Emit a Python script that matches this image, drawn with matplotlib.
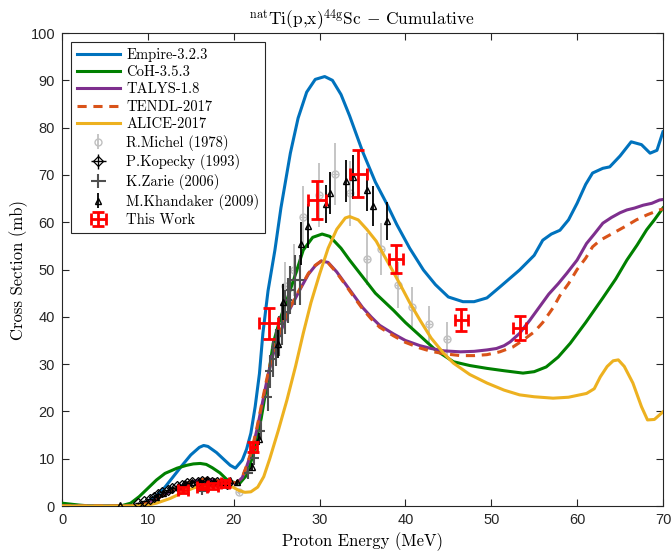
import numpy as np
from matplotlib import pyplot as plt

plt.rcParams['mathtext.fontset'] = 'cm'
cm_font = ['cmr10', 'DejaVu Serif']

# model curves (energy in MeV, cross section in mb)
empire_x = [0, 4, 8, 9, 10, 11, 12, 13, 14, 15, 16, 16.5, 17, 18, 19, 19.6, 20.2, 21, 21.5, 22, 22.5,
            23, 23.4, 24, 24.8, 25.5, 26.6, 27.5, 28.5, 29.5, 30.6, 31.5, 32.5, 33.5, 35, 36.5,
            37.8, 39, 40.5, 42.1, 43.5, 45, 46.7, 48, 49.5, 51, 53.3, 55, 56, 57, 58, 59, 60,
            61, 61.8, 63, 63.8, 65, 66.3, 67.5, 68.5, 69.3, 70]
empire_y = [0, 0, 0.1, 0.3, 1.0, 2.2, 4.0, 6.3, 8.6, 10.8, 12.4, 12.8, 12.6, 11.3, 9.6, 8.6, 8.0, 9.7,
            12.0, 15.4, 21.0, 28.0, 36.5, 45.5, 54.1, 63.0, 74.6, 82.0, 87.5, 90.2, 90.8, 90.0,
            87.0, 82.5, 75.0, 68.5, 64.0, 59.5, 54.5, 49.9, 46.8, 44.2, 43.2, 43.2, 44.0, 46.3,
            49.9, 53.0, 56.2, 57.5, 58.3, 60.5, 64.0, 68.0, 70.4, 71.4, 71.7, 74.0, 77.0, 76.4,
            74.6, 75.2, 79.1]

coh_x = [0, 1, 2, 3, 5, 7, 8, 9, 10.2, 11, 12, 13.4, 14.5, 15.3, 16.1, 16.8, 17.5, 18.4, 19.2, 20,
         20.7, 21.5, 22.3, 23.2, 24.0, 24.6, 25.4, 26.2, 27.2, 28.1, 29.2, 30.3, 31.2, 32.5, 33.5,
         34.7, 36.5, 38.6, 40, 41.7, 43.5, 45.6, 47.5, 49.5, 51.5, 53.7, 55, 56.4, 57.8, 59.2,
         61, 63, 64.5, 65.8, 67, 68.1, 69, 70]
coh_y = [0.6, 0.4, 0.2, 0.05, 0, 0.1, 0.6, 2.0, 4.1, 5.5, 6.9, 8.0, 8.6, 8.9, 9.0, 8.8, 8.1, 7.0,
         5.6, 5.0, 4.8, 6.5, 11.0, 18.5, 27.0, 34.4, 39.5, 43.6, 49.0, 54.1, 56.8, 57.5, 57.0,
         54.5, 52.0, 49.2, 45.0, 41.4, 38.8, 36.0, 33.0, 30.5, 29.7, 29.1, 28.6, 28.1, 28.4,
         29.4, 31.5, 34.4, 38.8, 44.0, 48.0, 52.0, 55.2, 58.4, 60.5, 63.0]

talys_x = [0, 4, 8, 9, 10, 11, 12, 13, 14, 15, 16, 16.8, 17.5, 18.5, 19.5, 20.3, 21, 21.5, 22.1, 22.7,
           23.2, 23.8, 24.5, 25.4, 26.5, 27.7, 28.7, 29.5, 30.2, 31, 32, 33, 34, 35, 36, 37, 38.6,
           40, 41.7, 43, 44.5, 46.4, 48, 49.5, 50.6, 51.5, 52.2, 53.3, 54.5, 55.5, 56.7, 57.8,
           58.8, 60, 61.1, 62, 63, 64, 65, 65.8, 66.7, 67.7, 68.7, 69.6, 70]
talys_y = [0, 0, 0, 0.2, 0.7, 1.5, 2.5, 3.4, 4.3, 5.0, 5.5, 5.6, 5.5, 5.2, 4.9, 4.8, 6.0, 8.3, 11.5,
           16.1, 20.5, 25.9, 31.5, 36.6, 41.5, 45.7, 49.0, 50.8, 51.8, 51.5, 49.5, 47.0, 44.5,
           42.0, 40.0, 38.2, 36.4, 35.0, 33.9, 33.3, 32.8, 32.6, 32.7, 33.0, 33.3, 33.9, 34.7,
           36.5, 39.3, 41.8, 44.8, 47.0, 49.2, 52.0, 55.5, 57.5, 59.8, 61.0, 62.0, 62.6, 63.0,
           63.6, 64.0, 64.7, 64.8]

tendl_x = [0, 4, 8, 9, 10, 11, 12, 13, 14, 15, 16, 16.8, 17.5, 18.5, 19.5, 20.3, 21, 21.5, 22.1, 22.7,
           23.2, 23.8, 24.5, 25.4, 26.5, 27.7, 28.7, 29.5, 30.2, 31, 32, 33, 34, 35, 36, 37, 38.6,
           40, 41.7, 43, 44.5, 46.4, 48, 49.5, 51, 52.5, 53.5, 55, 56, 57.2, 58, 59, 60, 61,
           61.8, 62.7, 64.2, 65.5, 66.9, 68.2, 69.6, 70]
tendl_y = [0, 0, 0, 0.2, 0.7, 1.5, 2.5, 3.5, 4.4, 5.1, 5.6, 5.7, 5.6, 5.3, 5.0, 4.9, 6.1, 8.5, 11.8,
           16.5, 21.0, 26.4, 32.0, 37.0, 41.8, 45.9, 49.2, 50.9, 51.8, 51.4, 49.3, 46.8, 44.2,
           41.7, 39.6, 37.8, 36.0, 34.6, 33.4, 32.7, 32.2, 31.8, 31.8, 32.0, 32.6, 33.6, 34.8,
           36.8, 38.8, 41.9, 44.5, 47.0, 50.0, 52.4, 54.8, 56.2, 57.7, 59.0, 60.5, 61.6, 62.6,
           62.8]

alice_x = [0, 5, 8, 10, 11, 12.6, 14, 15.3, 16.5, 18, 19, 19.9, 20.6, 21.3, 22, 22.8, 23.5, 24.2, 25.2,
           26.2, 27.2, 28.1, 29, 30, 31, 32, 33, 33.5, 34.5, 35.5, 36.6, 37.5, 38.5, 39.4,
           40.5, 41.7, 43, 44.5, 45.6, 47.5, 49.5, 51.5, 53.3, 55, 57.2, 59, 61.1, 62, 62.7,
           63.5, 64.2, 64.8, 65.5, 66.5, 67.5, 68.2, 69, 70]
alice_y = [0, 0, 0, 0.2, 0.6, 1.6, 2.8, 3.8, 4.3, 4.6, 4.5, 4.0, 3.3, 2.9, 3.0, 4.0, 6.2, 10.0, 16.0,
           22.4, 29.5, 36.5, 43.0, 49.0, 54.5, 58.5, 60.9, 61.2, 60.5, 58.5, 56.0, 53.0, 49.8,
           46.8, 43.0, 39.3, 35.5, 32.2, 30.2, 27.8, 26.0, 24.5, 23.5, 23.1, 22.8, 23.0, 23.8,
           24.8, 27.3, 29.5, 30.7, 30.9, 29.5, 26.0, 21.0, 18.2, 18.3, 19.9]

# experimental data: energy, cross section and uncertainties
michel_x = [20.6, 26.0, 27.0, 28.1, 29.9, 31.8, 33.6, 35.5, 37.2, 39.1, 40.8, 42.7, 44.9]
michel_y = [3.0, 46.5, 50.0, 61.2, 65.8, 70.2, 66.1, 52.2, 54.3, 46.7, 42.1, 38.4, 35.4]
michel_dy = [0.4, 5.0, 5.5, 6.5, 6.8, 6.5, 6.8, 5.5, 5.5, 4.8, 4.2, 3.9, 3.6]

kopecky_x = [8.9, 9.6, 10.2, 10.7, 11.2, 11.7, 12.3, 12.8, 13.4, 14.0, 14.6, 15.2, 15.8, 16.3, 16.9,
             17.5, 18.0, 18.6, 19.2]
kopecky_y = [0.6, 1.1, 1.5, 2.0, 2.5, 3.0, 3.4, 3.8, 4.2, 4.5, 4.9, 5.0, 5.1, 5.2, 5.2, 5.1, 5.0,
             4.8, 4.7]
kopecky_dx = [0.4, 0.4, 0.4, 0.4, 0.4, 0.4, 0.4, 0.4, 0.4, 0.4, 0.4, 0.4, 0.4, 0.4, 0.4, 0.4, 0.4,
              0.4, 0.4]
kopecky_dy = [0.2, 0.2, 0.2, 0.3, 0.3, 0.3, 0.3, 0.4, 0.4, 0.4, 0.4, 0.4, 0.4, 0.4, 0.4, 0.4, 0.4,
              0.4, 0.4]

zarie_x = [16.3, 21.7, 22.4, 23.2, 24.0, 24.2, 24.6, 24.9, 25.3, 25.6, 26.0, 26.3, 26.6, 27.1, 27.7]
zarie_y = [3.1, 7.0, 10.1, 15.9, 23.0, 28.5, 31.0, 33.5, 36.0, 38.5, 41.0, 43.5, 45.7, 47.8, 47.8]
zarie_dx = [0.6, 0.5, 0.5, 0.5, 0.5, 0.5, 0.5, 0.5, 0.5, 0.5, 0.5, 0.5, 0.5, 0.5, 0.5]
zarie_dy = [0.8, 1.2, 1.5, 2.0, 3.0, 3.5, 3.8, 4.0, 4.2, 4.4, 4.6, 4.8, 5.0, 5.2, 5.2]

khand_x = [6.8, 11.0, 11.8, 12.6, 13.5, 14.3, 15.2, 16.0, 16.9, 17.7, 18.6, 19.6, 20.4, 22.1, 23.0,
           25.2, 25.8, 27.8, 28.7, 30.7, 31.2, 33.1, 33.9, 35.5, 36.2, 37.9]
khand_y = [0.3, 2.0, 2.8, 3.5, 4.2, 4.8, 5.1, 5.3, 5.4, 5.2, 5.0, 5.5, 5.0, 8.3, 14.2, 34.2, 43.2,
           55.5, 59.2, 63.8, 66.2, 68.7, 69.6, 66.8, 63.4, 60.2]
khand_dy = [0.1, 0.3, 0.3, 0.4, 0.4, 0.5, 0.5, 0.5, 0.5, 0.5, 0.5, 0.5, 0.5, 0.8, 1.2, 3.0, 3.8,
            4.5, 4.7, 4.0, 4.5, 4.5, 4.6, 4.4, 4.2, 4.0]

work_x = [14.1, 16.3, 17.6, 19.0, 22.3, 24.1, 29.7, 34.5, 38.9, 46.5, 53.3]
work_y = [3.4, 4.1, 4.2, 4.8, 12.5, 38.6, 64.7, 70.3, 52.2, 39.3, 37.6]
work_dx = [0.6, 0.6, 0.6, 0.5, 0.4, 1.1, 1.0, 1.0, 0.85, 0.78, 0.72]
work_dy = [0.6, 0.6, 0.6, 0.7, 1.0, 3.2, 4.1, 4.9, 3.0, 2.3, 2.5]

fig = plt.figure(figsize=(6.71, 5.56), dpi=100)
ax = fig.add_axes([0.0924, 0.0899, 0.8956, 0.8507])

lw = 2.2
ax.plot(empire_x, empire_y, color='#0072BD', lw=lw, label='Empire-3.2.3', zorder=3)
ax.plot(coh_x, coh_y, color='#008000', lw=lw, label='CoH-3.5.3', zorder=3)
ax.plot(talys_x, talys_y, color='#7E2F8E', lw=lw, label='TALYS-1.8', zorder=3)
ax.plot(tendl_x, tendl_y, color='#D95319', lw=lw, ls=(0, (3, 2.2)), label='TENDL-2017', zorder=3)
ax.plot(alice_x, alice_y, color='#EDB120', lw=lw, label='ALICE-2017', zorder=3)

ax.errorbar(michel_x, michel_y, yerr=michel_dy, fmt='o', color='#c0c0c0', ms=5, mfc='none',
            mew=1, elinewidth=1.3, capsize=0, label='R.Michel (1978)', zorder=2)
ax.plot(michel_x, michel_y, '+', color='#c0c0c0', ms=5, zorder=2)
ax.errorbar(kopecky_x, kopecky_y, xerr=kopecky_dx, yerr=kopecky_dy, fmt='D', color='k', ms=5,
            mfc='none', mew=0.9, elinewidth=1, capsize=0, label='P.Kopecky (1993)', zorder=4)
ax.errorbar(zarie_x, zarie_y, xerr=zarie_dx, yerr=zarie_dy, fmt='none', ecolor='#505050',
            elinewidth=1.5, capsize=0, label='K.Zarie (2006)', zorder=4)
ax.errorbar(khand_x, khand_y, yerr=khand_dy, fmt='^', color='k', ms=4.5, mfc='none', mew=1,
            elinewidth=1.3, capsize=0, label='M.Khandaker (2009)', zorder=4)
ax.errorbar(work_x, work_y, xerr=work_dx, yerr=work_dy, fmt='none', ecolor='#ff0000',
            elinewidth=2, capsize=4, capthick=2, label='This Work', zorder=5)

ax.set_xlim(0, 70)
ax.set_ylim(0, 100)
ax.set_xticks(np.arange(0, 71, 10))
ax.set_yticks(np.arange(0, 101, 10))
ax.tick_params(direction='in', top=True, right=True, length=5, width=0.8, colors='#262626',
               labelsize=10.5, pad=5)
for lab in ax.get_xticklabels() + ax.get_yticklabels():
    lab.set_family('Liberation Sans')
for s in ax.spines.values():
    s.set_color('#262626')
    s.set_linewidth(0.8)

ax.set_title(r'$^{\rm nat}$Ti(p,x)$^{\rm 44g}$Sc $-$ Cumulative', family=cm_font, fontsize=12.5,
             pad=6)
ax.set_xlabel('Proton Energy (MeV)', family=cm_font, fontsize=12, labelpad=4)
ax.set_ylabel('Cross Section (mb)', family=cm_font, fontsize=12, labelpad=2)

leg = ax.legend(loc='upper left', prop={'family': cm_font, 'size': 10.5}, fancybox=False,
                framealpha=1, edgecolor='#262626', handlelength=3.0, borderaxespad=0.6,
                labelspacing=0.25, handletextpad=0.4, borderpad=0.4)
leg.get_frame().set_linewidth(0.8)

fig.savefig('out.png', dpi=100)
